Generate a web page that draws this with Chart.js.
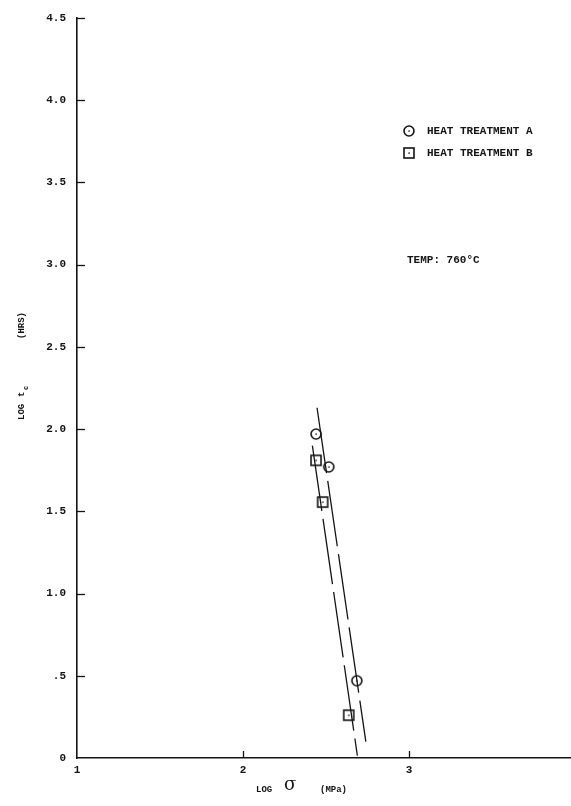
<!DOCTYPE html>
<html>
<head>
<meta charset="utf-8">
<script src="https://cdn.jsdelivr.net/npm/chart.js@4.4.1/dist/chart.umd.min.js"></script>
<style>
  html, body { margin: 0; padding: 0; background: #fff; }
  #wrap { width: 571px; height: 806px; overflow: hidden; }
</style>
</head>
<body>
<div id="wrap"><canvas id="c" width="575" height="806"></canvas></div>
<script>
// axis ticks
const xTicks = [1, 2, 3];
const yTicks = [0, 0.5, 1, 1.5, 2, 2.5, 3, 3.5, 4, 4.5];
const yTickLabels = ['0', '.5', '1.0', '1.5', '2.0', '2.5', '3.0', '3.5', '4.0', '4.5'];

// heat treatment A (circles)
const aLogStress = [2.44, 2.517, 2.686];
const aLogTime = [1.97, 1.77, 0.47];
// heat treatment B (squares)
const bLogStress = [2.44, 2.48, 2.637];
const bLogTime = [1.81, 1.556, 0.26];

// hand drawn fit lines
const fitAStress = [2.446, 2.74];
const fitATime = [2.13, 0.10];
const fitBStress = [2.418, 2.689];
const fitBTime = [1.90, 0.015];

const INK = '#141414';
const MONO = "'Liberation Mono', 'DejaVu Sans Mono', monospace";

function pts(xs, ys) { return xs.map((x, i) => ({ x, y: ys[i] })); }

function markerImg(kind) {
  const cv = document.createElement('canvas');
  cv.width = 14; cv.height = 14;
  const g = cv.getContext('2d');
  g.fillStyle = '#fff';
  g.strokeStyle = INK;
  g.lineWidth = 1.6;
  if (kind === 'circle') {
    g.beginPath(); g.arc(7, 7, 5, 0, Math.PI * 2); g.fill(); g.stroke();
  } else {
    g.fillRect(2, 2, 10, 10); g.strokeRect(2, 2, 10, 10);
  }
  g.fillStyle = INK;
  g.fillRect(6.4, 6.4, 1.4, 1.4);
  return cv;
}
const circleImg = markerImg('circle');
const squareImg = markerImg('square');

// inward tick marks, titles, legend and note
const decor = {
  id: 'decor',
  afterDraw(chart) {
    const ctx = chart.ctx;
    const xs = chart.scales.x, ys = chart.scales.y;
    const area = chart.chartArea;
    ctx.save();
    ctx.strokeStyle = INK;
    ctx.lineWidth = 1.3;
    xTicks.forEach(v => {
      if (v === 1) return;
      const px = Math.round(xs.getPixelForValue(v)) + 0.5;
      ctx.beginPath(); ctx.moveTo(px, area.bottom); ctx.lineTo(px, area.bottom - 7); ctx.stroke();
    });
    yTicks.forEach(v => {
      if (v === 0) return;
      const py = Math.round(ys.getPixelForValue(v)) + 0.5;
      ctx.beginPath(); ctx.moveTo(area.left, py); ctx.lineTo(area.left + 8, py); ctx.stroke();
    });

    ctx.fillStyle = INK;
    ctx.textBaseline = 'middle';
    ctx.textAlign = 'left';

    // legend
    ctx.font = 'bold 11px ' + MONO;
    ctx.drawImage(circleImg, 409 - 7, 131 - 7);
    ctx.fillText('HEAT TREATMENT A', 427, 131);
    ctx.drawImage(squareImg, 409 - 7, 153 - 7);
    ctx.fillText('HEAT TREATMENT B', 427, 153);
    ctx.fillText('TEMP: 760\u00B0C', 407, 260);

    // x title
    ctx.font = 'bold 9px ' + MONO;
    ctx.fillText('LOG', 256, 790);
    ctx.font = '18px "DejaVu Serif", serif';
    ctx.fillText('\u03C3', 284, 785);
    ctx.font = 'bold 9px ' + MONO;
    ctx.fillText('(MPa)', 320, 790);

    // y title (rotated)
    ctx.translate(22, 0);
    ctx.rotate(-Math.PI / 2);
    ctx.font = 'bold 9px ' + MONO;
    ctx.fillText('LOG', -420, 0);
    ctx.fillText('t', -397, 0);
    ctx.font = 'bold 7px ' + MONO;
    ctx.fillText('c', -390, 4);
    ctx.font = 'bold 9px ' + MONO;
    ctx.fillText('(HRS)', -339, 0);
    ctx.restore();
  }
};

new Chart(document.getElementById('c'), {
  type: 'scatter',
  data: {
    datasets: [
      { type: 'line', data: pts(fitAStress, fitATime), borderColor: INK, borderWidth: 1.3,
        borderDash: [66, 8], pointRadius: 0, fill: false },
      { type: 'line', data: pts(fitBStress, fitBTime), borderColor: INK, borderWidth: 1.3,
        borderDash: [66, 8], pointRadius: 0, fill: false },
      { label: 'HEAT TREATMENT A', data: pts(aLogStress, aLogTime), pointStyle: circleImg },
      { label: 'HEAT TREATMENT B', data: pts(bLogStress, bLogTime), pointStyle: squareImg },
    ],
  },
  options: {
    responsive: false,
    animation: false,
    layout: { padding: { top: 18, right: 0, left: 0, bottom: 0 } },
    plugins: { legend: { display: false }, tooltip: { enabled: false } },
    scales: {
      x: {
        type: 'linear', min: 1, max: 3.97,
        afterBuildTicks: (s) => { s.ticks = xTicks.map(value => ({ value })); },
        afterFit: (s) => { s.height = 48; },
        grid: { drawOnChartArea: false, drawTicks: false },
        border: { display: true, color: INK, width: 1.6 },
        ticks: { color: INK, font: { family: MONO, size: 11, weight: 'bold' }, padding: 6, autoSkip: false, maxRotation: 0 },
      },
      y: {
        type: 'linear', min: 0, max: 4.5,
        afterBuildTicks: (s) => { s.ticks = yTicks.map(value => ({ value })); },
        afterFit: (s) => { s.width = 77; },
        grid: { drawOnChartArea: false, drawTicks: false },
        border: { display: true, color: INK, width: 1.6 },
        ticks: { color: INK, font: { family: MONO, size: 11, weight: 'bold' }, padding: 11, autoSkip: false,
          callback: (v, i) => yTickLabels[i] },
      },
    },
  },
  plugins: [decor],
});
</script>
</body>
</html>
